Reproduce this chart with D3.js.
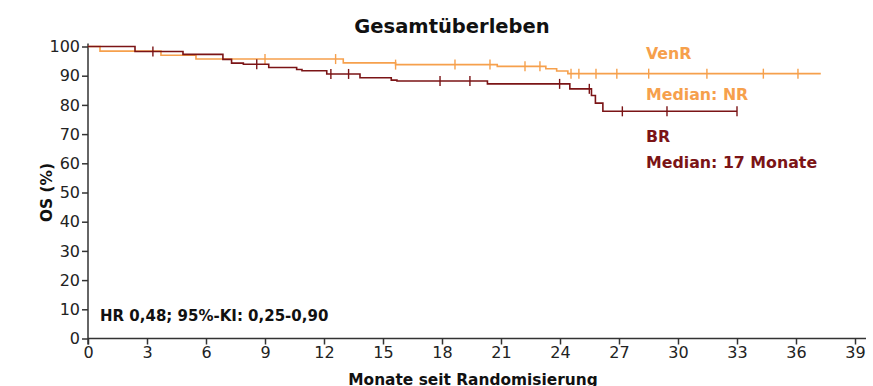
<!DOCTYPE html>
<html>
<head>
<meta charset="utf-8">
<script src="https://cdn.jsdelivr.net/npm/d3@7"></script>
<style>
  body { margin: 0; background: #fff; }
  svg text { font-family: "DejaVu Sans", sans-serif; }
</style>
</head>
<body>
<div id="chart"></div>
<script>
// Kaplan-Meier steps (months, OS %)
const venrTimes = [0, 0.61, 3.71, 5.49, 12.98, 15.64, 20.81, 23.28, 23.83, 24.4, 37.26];
const venrSurv  = [100, 98.4, 97.0, 95.7, 94.4, 93.8, 93.2, 92.4, 91.6, 90.7, 90.7];
const venrCensor = [9.0, 12.59, 15.64, 18.66, 20.44, 22.22, 22.98, 24.56, 24.96, 25.83, 26.89, 28.51, 31.47, 34.34, 36.1];

const brTimes = [0, 2.39, 4.83, 6.86, 7.3, 7.9, 9.19, 10.61, 10.88, 12.14, 13.83, 15.42, 15.71, 20.31, 24.5, 25.6, 25.8, 26.18, 33.0];
const brSurv  = [100, 98.3, 97.3, 95.6, 94.3, 93.9, 92.8, 92.1, 91.7, 90.6, 89.3, 88.5, 88.2, 87.2, 85.5, 83.2, 80.6, 77.8, 77.8];
const brCensor = [3.3, 8.58, 12.35, 13.25, 17.9, 19.42, 23.98, 25.49, 27.17, 29.44, 33.0];

const xTicks = d3.range(0, 40, 3);
const yTicks = d3.range(0, 101, 10);

const colors = {venr: '#f6a04c', br: '#7b1416', axis: '#333'};

const width = 873, height = 386;
const svg = d3.select('#chart').append('svg')
    .attr('width', width)
    .attr('height', height);

const x = d3.scaleLinear().domain([0, 39]).range([88, 855]);
const y = d3.scaleLinear().domain([0, 100]).range([338.5, 46.5]);

// title
svg.append('text')
    .attr('x', 452).attr('y', 33)
    .attr('text-anchor', 'middle')
    .attr('font-size', 19.5).attr('font-weight', 'bold')
    .attr('fill', '#111')
    .text('Gesamtüberleben');

// axes
const xAxis = svg.append('g')
    .attr('transform', `translate(0,${y(0)})`)
    .call(d3.axisBottom(x).tickValues(xTicks).tickSize(6).tickSizeOuter(0));
xAxis.select('.domain').attr('d', `M${x(0)},0H${x(39) + 11}`);

const yAxis = svg.append('g')
    .attr('transform', `translate(${x(0)},0)`)
    .call(d3.axisLeft(y).tickValues(yTicks).tickSize(6).tickSizeOuter(0));
yAxis.select('.domain').attr('d', `M0,${y(0) + 6}V${y(100) - 3}`);

svg.selectAll('.tick text')
    .attr('font-size', 16)
    .attr('fill', '#222')
    .style('font-family', '"DejaVu Sans", sans-serif');
xAxis.selectAll('.tick text').attr('y', 8).attr('dy', '0.71em');
yAxis.selectAll('.tick text').attr('x', -8);
svg.selectAll('.domain, .tick line')
    .attr('stroke', colors.axis)
    .attr('stroke-width', 1.5);

// axis titles
svg.append('text')
    .attr('transform', `translate(52,${(y(0) + y(100)) / 2}) rotate(-90)`)
    .attr('text-anchor', 'middle')
    .attr('font-size', 15.4).attr('font-weight', 'bold')
    .attr('fill', '#111')
    .text('OS (%)');

svg.append('text')
    .attr('x', 473).attr('y', 385)
    .attr('text-anchor', 'middle')
    .attr('font-size', 15.4).attr('font-weight', 'bold')
    .attr('fill', '#111')
    .text('Monate seit Randomisierung');

// curves
const stepLine = d3.line()
    .x(d => x(d[0]))
    .y(d => y(d[1]))
    .curve(d3.curveStepAfter);

function survivalAt(times, surv, t) {
    let s = surv[0];
    for (let i = 0; i < times.length; i++) {
        if (times[i] <= t) s = surv[i];
    }
    return s;
}

function drawArm(times, surv, censor, color) {
    const g = svg.append('g');
    g.append('path')
        .datum(d3.zip(times, surv))
        .attr('d', stepLine)
        .attr('fill', 'none')
        .attr('stroke', color)
        .attr('stroke-width', 1.6);
    g.selectAll('line.censor')
        .data(censor)
        .enter().append('line')
        .attr('class', 'censor')
        .attr('x1', d => x(d)).attr('x2', d => x(d))
        .attr('y1', d => y(survivalAt(times, surv, d)) - 5)
        .attr('y2', d => y(survivalAt(times, surv, d)) + 5)
        .attr('stroke', color)
        .attr('stroke-width', 1.4);
}

drawArm(venrTimes, venrSurv, venrCensor, colors.venr);
drawArm(brTimes, brSurv, brCensor, colors.br);

// legend labels
const labels = [
    {text: 'VenR', y: 59, color: colors.venr},
    {text: 'Median: NR', y: 100, color: colors.venr},
    {text: 'BR', y: 142, color: colors.br},
    {text: 'Median: 17 Monate', y: 168, color: colors.br}
];
svg.selectAll('text.lab')
    .data(labels)
    .enter().append('text')
    .attr('class', 'lab')
    .attr('x', 646)
    .attr('y', d => d.y)
    .attr('font-size', 15.8).attr('font-weight', 'bold')
    .attr('fill', d => d.color)
    .text(d => d.text);

svg.append('text')
    .attr('x', 100).attr('y', 320.5)
    .attr('font-size', 15).attr('font-weight', 'bold')
    .attr('fill', '#111')
    .text('HR 0,48; 95%-KI: 0,25-0,90');
</script>
</body>
</html>
